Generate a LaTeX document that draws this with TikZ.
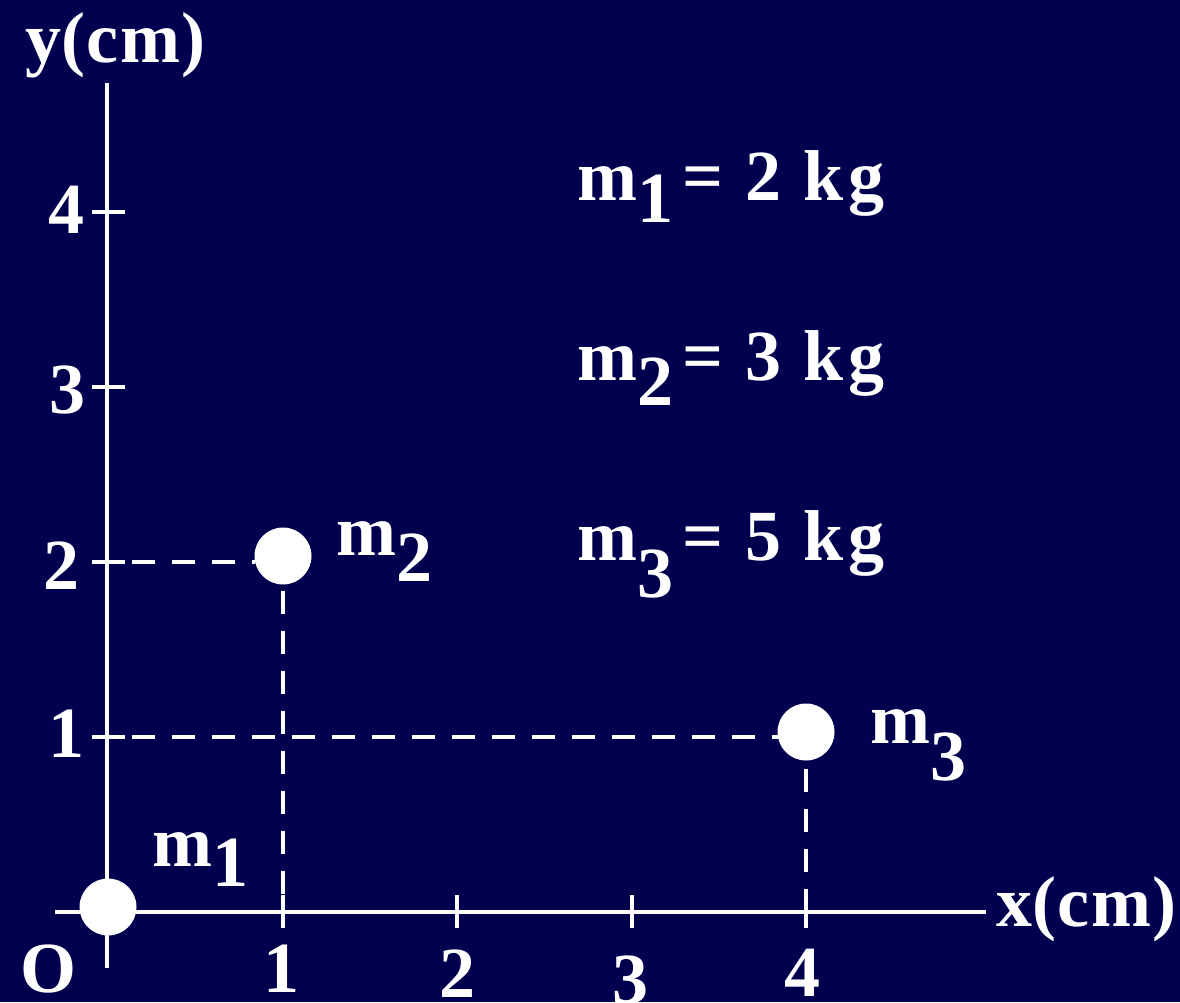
\documentclass[tikz,border=0pt]{standalone}
\usepackage{fontspec}
\setmainfont{Liberation Serif}
\definecolor{navybg}{RGB}{0,0,78}
\begin{document}
\begin{tikzpicture}[x=1pt,y=-1pt,
  lbl/.style={text=white,font=\fontsize{72}{80}\selectfont\bfseries,inner sep=0pt},
  axisline/.style={draw=white,line width=4pt},
  tickline/.style={draw=white,line width=3.5pt},
  guide/.style={draw=white,line width=3.5pt,dash pattern=on 23pt off 17pt},
  mass/.style={circle,fill=white,minimum size=57pt,inner sep=0pt}]
\fill[navybg] (0,0) rectangle (1180,1002);
\useasboundingbox (0,0) rectangle (1180,1002);
% axis ends
\coordinate (yt) at (107,83);
\coordinate (yb) at (107,968);
\coordinate (xl) at (55,912);
\coordinate (xr) at (986,912);
\draw[axisline] (yt) -- (yb);
\draw[axisline] (xl) -- (xr);
% y ticks
\foreach \yy/\n in {212/4,387/3,562/2,737/1}{
  \coordinate (ytl\n) at (92,\yy);
  \coordinate (ytr\n) at (125,\yy);
  \draw[tickline] (ytl\n) -- (ytr\n);
}
% x ticks
\foreach \xx/\n in {283/1,457/2,632/3,806/4}{
  \coordinate (xtt\n) at (\xx,895);
  \coordinate (xtb\n) at (\xx,928);
  \draw[tickline] (xtt\n) -- (xtb\n);
}
% masses
\node[mass] (d1) at (108,907) {};
\node[mass] (d2) at (283,556) {};
\node[mass] (d3) at (806,732) {};
% guide lines
\coordinate (g2a) at (92,562);
\coordinate (g2b) at (255,562);
\coordinate (g2c) at (283,591);
\coordinate (g2d) at (283,928);
\coordinate (g3a) at (92,737);
\coordinate (g3b) at (778,737);
\coordinate (g3c) at (806,769);
\coordinate (g3d) at (806,928);
\draw[guide] (g2a) -- (g2b);
\draw[guide] (g2c) -- (g2d);
\draw[guide] (g3a) -- (g3b);
\draw[guide] (g3c) -- (g3d);
% axis titles
\node[lbl,anchor=base west] (ylab) at (25,62) {y(\kern1pt c\kern2pt m\kern1pt)};
\node[lbl,anchor=base west] (xlab) at (996,926) {x(\kern1pt c\kern2pt m\kern1pt)};
% tick labels
\node[lbl,anchor=base] (o) at (49,992) {O};
\node[lbl,anchor=base] (x1) at (281,992) {1};
\node[lbl,anchor=base] (x2) at (457,997) {2};
\node[lbl,anchor=base] (x3) at (630,1003) {3};
\node[lbl,anchor=base] (x4) at (802,996) {4};
\node[lbl,anchor=base] (y4) at (66,233) {4};
\node[lbl,anchor=base] (y3) at (67,413) {3};
\node[lbl,anchor=base] (y2) at (61,589) {2};
\node[lbl,anchor=base] (y1) at (66,757) {1};
% mass labels
\node[lbl,anchor=base west] (l1) at (152,866) {m\raisebox{-20pt}{1}};
\node[lbl,anchor=base west] (l2) at (336,555) {m\raisebox{-26pt}{2}};
\node[lbl,anchor=base west] (l3) at (870,743) {m\raisebox{-37pt}{3}};
% legend
\node[lbl,anchor=base west] (k1) at (577,200) {m\raisebox{-22pt}{1}\kern9pt=\hspace{22pt}2\hspace{22pt}k\kern5pt g};
\node[lbl,anchor=base west] (k2) at (577,380) {m\raisebox{-25pt}{2}\kern9pt=\hspace{22pt}3\hspace{22pt}k\kern5pt g};
\node[lbl,anchor=base west] (k3) at (577,560) {m\raisebox{-37pt}{3}\kern9pt=\hspace{22pt}5\hspace{22pt}k\kern5pt g};
\end{tikzpicture}
\end{document}
